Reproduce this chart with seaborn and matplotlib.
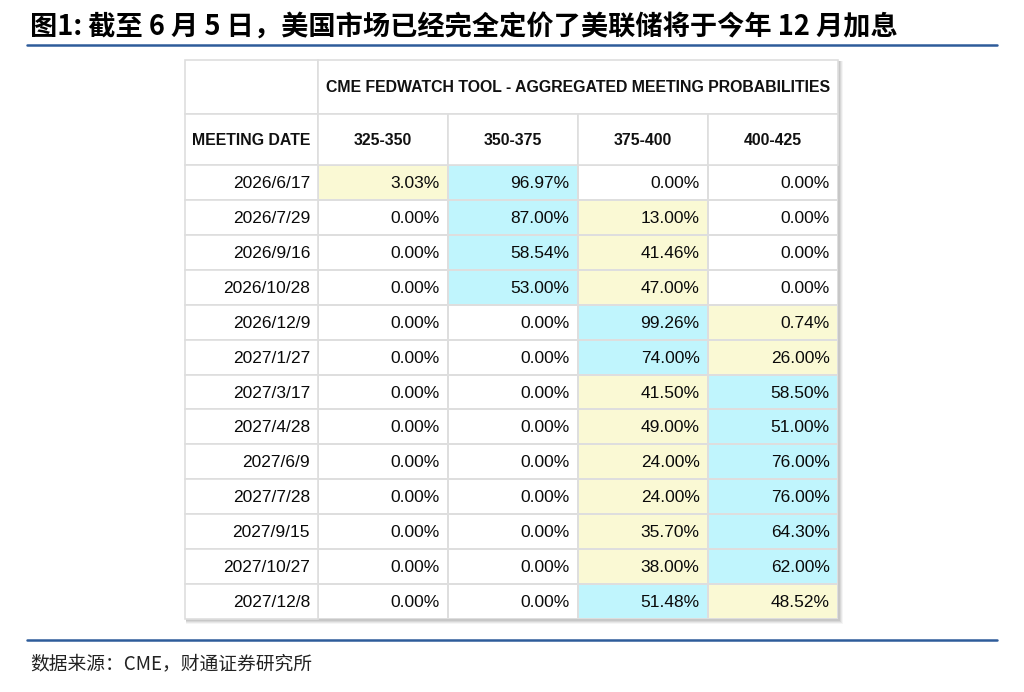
import numpy as np
import pandas as pd
import seaborn as sns
import matplotlib.pyplot as plt
from matplotlib.colors import ListedColormap
from matplotlib.patches import Rectangle

sns.set_theme(style='white')
plt.rcParams['font.family'] = ['Liberation Sans', 'Noto Sans CJK SC', 'DejaVu Sans']

meeting_dates = ['2026/6/17', '2026/7/29', '2026/9/16', '2026/10/28', '2026/12/9',
                 '2027/1/27', '2027/3/17', '2027/4/28', '2027/6/9', '2027/7/28',
                 '2027/9/15', '2027/10/27', '2027/12/8']
rate_ranges = ['325-350', '350-375', '375-400', '400-425']
p_325_350 = [3.03, 0, 0, 0, 0, 0, 0, 0, 0, 0, 0, 0, 0]
p_350_375 = [96.97, 87.00, 58.54, 53.00, 0, 0, 0, 0, 0, 0, 0, 0, 0]
p_375_400 = [0, 13.00, 41.46, 47.00, 99.26, 74.00, 41.50, 49.00, 24.00, 24.00, 35.70, 38.00, 51.48]
p_400_425 = [0, 0, 0, 0, 0.74, 26.00, 58.50, 51.00, 76.00, 76.00, 64.30, 62.00, 48.52]

title = '图1: 截至 6 月 5 日，美国市场已经完全定价了美联储将于今年 12 月加息'
header = 'CME FEDWATCH TOOL - AGGREGATED MEETING PROBABILITIES'
source = '数据来源：CME，财通证券研究所'

df = pd.DataFrame({'325-350': p_325_350, '350-375': p_350_375,
                   '375-400': p_375_400, '400-425': p_400_425}, index=meeting_dates)

# highlight: most likely = cyan, second (non-zero) = yellow
vals = df.values
codes = np.zeros_like(vals)
for i, row in enumerate(vals):
    order = np.argsort(row)[::-1]
    codes[i, order[0]] = 2
    if row[order[1]] > 0:
        codes[i, order[1]] = 1

yellow = '#FAF9D4'
cyan = '#C0F5FD'
grid = '#DEDEDE'

W, H = 1024, 692
fig = plt.figure(figsize=(W / 100, H / 100), dpi=100)

def px_axes(l, t, r, b, **kw):
    return fig.add_axes([l / W, 1 - b / H, (r - l) / W, (b - t) / H], **kw)

# table geometry (pixels)
T_L, T_R, T_T, T_B = 185, 838, 60, 619
H1, H2 = 114, 165
C1 = 318
col_edges = [318, 448, 578, 708, 838]

# shadow
sh = px_axes(0, 0, W, H)
sh.set_xlim(0, W); sh.set_ylim(H, 0); sh.axis('off')
for k, a in zip([5, 4, 3, 2], [0.08, 0.12, 0.16, 0.2]):
    sh.add_patch(Rectangle((T_L + 1, T_T + 1), T_R - T_L - 1 + k, T_B - T_T - 1 + k,
                           facecolor='#888888', edgecolor='none', alpha=a))
sh.add_patch(Rectangle((T_L, T_T), T_R - T_L, T_B - T_T, facecolor='white', edgecolor='none'))

# title and rules
sh.text(30, 28, title, fontsize=19.6, fontweight='bold', va='center', ha='left',
        family=['Noto Sans CJK SC', 'DejaVu Sans'], color='black')
sh.plot([27, 997], [45, 45], color='#2E5C9A', lw=1.8)
sh.plot([27, 997], [640, 640], color='#2E5C9A', lw=1.8)
sh.text(30, 664, source, fontsize=13.5, va='center', ha='left',
        family=['Noto Sans CJK SC', 'DejaVu Sans'], color='#222222')

# header cells + date column
for (x0, y0, x1, y1) in [(T_L, T_T, C1, H1), (C1, T_T, T_R, H1), (T_L, H1, C1, H2)]:
    sh.add_patch(Rectangle((x0, y0), x1 - x0, y1 - y0, facecolor='white', edgecolor=grid, lw=1.2))
for j in range(4):
    sh.add_patch(Rectangle((col_edges[j], H1), col_edges[j + 1] - col_edges[j], H2 - H1,
                           facecolor='white', edgecolor=grid, lw=1.2))
    sh.text((col_edges[j] + col_edges[j + 1]) / 2, (H1 + H2) / 2 + 1, rate_ranges[j],
            fontsize=11.4, fontweight='bold', ha='center', va='center', color='#111111')
sh.text((C1 + T_R) / 2, (T_T + H1) / 2 + 1, header, fontsize=11.4, fontweight='bold',
        ha='center', va='center', color='#111111')
sh.text((T_L + C1) / 2, (H1 + H2) / 2 + 1, 'MEETING DATE', fontsize=11.4, fontweight='bold',
        ha='center', va='center', color='#111111')
rh = (T_B - H2) / len(meeting_dates)
for i, d in enumerate(meeting_dates):
    y0 = H2 + i * rh
    sh.add_patch(Rectangle((T_L, y0), C1 - T_L, rh, facecolor='white', edgecolor=grid, lw=1.2))
    sh.text(C1 - 8, y0 + rh / 2 + 1, d, fontsize=12.5, ha='right', va='center', color='#0A0A0A')

# probability cells as a heatmap
ax = px_axes(C1, H2, T_R, T_B)
sns.heatmap(codes, cmap=ListedColormap(['white', yellow, cyan]), vmin=-0.5, vmax=2.5,
            cbar=False, linewidths=1.2, linecolor=grid, xticklabels=False,
            yticklabels=False, ax=ax)
for i in range(vals.shape[0]):
    for j in range(vals.shape[1]):
        ax.text(j + 1 - 0.065, i + 0.5 + 0.03, f'{vals[i, j]:.2f}%', fontsize=12.5,
                ha='right', va='center', color='#0A0A0A')

fig.savefig('out.png', dpi=100)
